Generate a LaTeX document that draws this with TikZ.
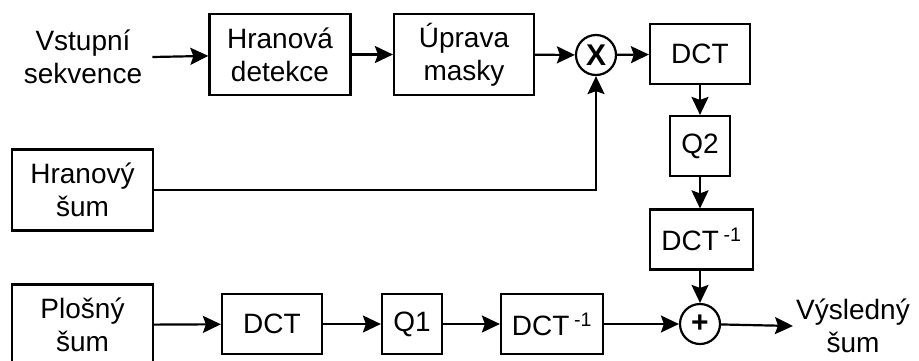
\documentclass[tikz,border=0pt]{standalone}
\usepackage{fontspec}
\setmainfont{Liberation Sans}
\usetikzlibrary{arrows.meta,positioning}
\tikzset{
  blk/.style={draw,line width=2.2pt,align=center,inner sep=0pt,
              minimum width=100pt,minimum height=60pt,font=\fontsize{28}{33}\selectfont},
  wide/.style={blk,minimum width=141pt,minimum height=81pt},
  sq/.style={blk,minimum width=60pt},
  sumc/.style={draw,circle,line width=2.2pt,minimum size=40pt,inner sep=0pt,
               font=\fontsize{30}{30}\selectfont\bfseries},
  io/.style={align=center,font=\fontsize{28}{33}\selectfont},
  arr/.style={-{Stealth[length=18pt,width=17pt,inset=3pt]},line width=2.2pt}
}
\begin{document}
\begin{tikzpicture}[x=1pt,y=-1pt]
      \useasboundingbox (0,0) rectangle (919,360);
      \clip (0,0) rectangle (919,360);
      \node[io,inner sep=10pt] (in) at (83,57) {Vstupní\\sekvence};
      \node[wide] (hd) at (280,54.5) {Hranová\\detekce};
      \node[wide,minimum width=140pt] (um) at (464,54.5) {Úprava\\masky};
      \node[sumc] (mul) at (596,55) {X};
      \node[blk] (dcta) at (700,54) {DCT};
      \node[sq] (qb) at (700,146) {Q2};
      \node[blk,minimum width=103pt] (idcta) at (701.5,239.5) {DCT\,\textsuperscript{-1}};
      \node[wide] (hs) at (82.5,190) {Hranový\\šum};
      \node[wide] (ps) at (82.5,325) {Plošný\\šum};
      \node[blk] (dctb) at (272,324) {DCT};
      \node[sq] (qa) at (412,324) {Q1};
      \node[blk,minimum width=102pt] (idctb) at (552,324) {DCT\,\textsuperscript{-1}};
      \node[sumc] (add) at (700,324) {+};
      \node[io,inner sep=3pt,anchor=west] (out) at (793,326) {Výsledný\\šum};
      \draw[arr] (in.east) -- (hd);
      \draw[arr] (hd) -- (um);
      \draw[arr] (um) -- (mul);
      \draw[arr] (mul) -- (dcta);
      \draw[arr] (dcta) -- (qb);
      \draw[arr] (qb) -- (idcta.north -| qb);
      \draw[arr] (idcta.south -| add) -- (add);
      \draw[arr] (hs.east) -| (mul.south);
      \draw[arr] (ps) -- (dctb);
      \draw[arr] (dctb) -- (qa);
      \draw[arr] (qa) -- (idctb);
      \draw[arr] (idctb) -- (add);
      \draw[arr] (add) -- (out.west);
    \end{tikzpicture}
\end{document}
